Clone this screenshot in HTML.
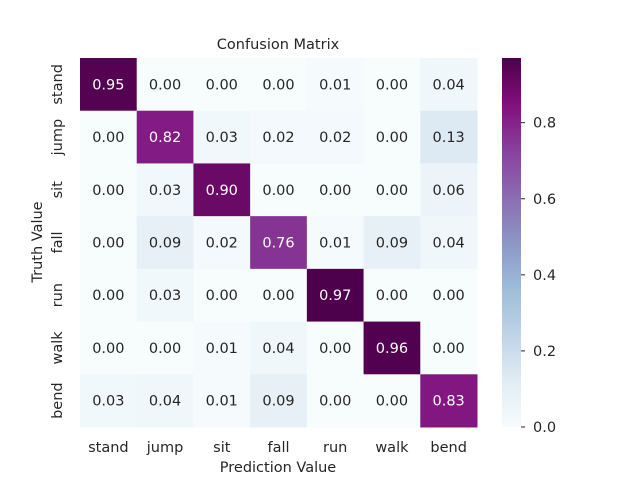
<!DOCTYPE html>
<html><head><meta charset="utf-8"><style>
body{margin:0;background:#fff;}
svg text{font-family:"DejaVu Sans","Liberation Sans",sans-serif;fill:#262626;}
</style></head><body>
<svg id="chart" width="640" height="480">
<text x="278" y="49" font-size="14.5" text-anchor="middle">Confusion Matrix</text>
<g id="cells"></g>
<g id="xlabels"></g>
<g id="ylabels"></g>
<text x="278" y="472" font-size="14.5" text-anchor="middle">Prediction Value</text>
<text x="0" y="0" font-size="14.5" text-anchor="middle" transform="translate(42,242) rotate(-90)">Truth Value</text>
<defs><linearGradient id="cbg" x1="0" y1="1" x2="0" y2="0"></linearGradient></defs>
<rect x="502" y="58" width="19" height="369" fill="url(#cbg)"/>
<g id="cbticks"></g>
</svg>
<script>
const categories=["stand","jump","sit","fall","run","walk","bend"];
const row0=[0.95,0.00,0.00,0.00,0.01,0.00,0.04];
const row1=[0.00,0.82,0.03,0.02,0.02,0.00,0.13];
const row2=[0.00,0.03,0.90,0.00,0.00,0.00,0.06];
const row3=[0.00,0.09,0.02,0.76,0.01,0.09,0.04];
const row4=[0.00,0.03,0.00,0.00,0.97,0.00,0.00];
const row5=[0.00,0.00,0.01,0.04,0.00,0.96,0.00];
const row6=[0.03,0.04,0.01,0.09,0.00,0.00,0.83];
const matrix=[row0,row1,row2,row3,row4,row5,row6];
const cbTicks=[0.0,0.2,0.4,0.6,0.8];
const ns="http://www.w3.org/2000/svg";
const X0=80,X1=477,Y0=58,Y1=427;
const n=categories.length,cw=(X1-X0)/n,ch=(Y1-Y0)/n;
let vmin=Infinity,vmax=-Infinity;matrix.forEach(r=>r.forEach(v=>{vmin=Math.min(vmin,v);vmax=Math.max(vmax,v);}));
const stops=["#f7fcfd","#e0ecf4","#bfd3e6","#9ebcda","#8c96c6","#8c6bb1","#88419d","#810f7c","#4d004b"];
function hx(c){return [1,3,5].map(i=>parseInt(c.substr(i,2),16));}
function cmap(t){t=Math.max(0,Math.min(1,t));const p=t*(stops.length-1),i=Math.min(Math.floor(p),stops.length-2),f=p-i;const a=hx(stops[i]),b=hx(stops[i+1]);return "rgb("+a.map((v,k)=>Math.round(v+(b[k]-v)*f)).join(",")+")";}
function norm(v){return (v-vmin)/(vmax-vmin);}
const xs=i=>X0+i*cw, ys=j=>Y0+j*ch, cy=v=>Y1-(v-vmin)/(vmax-vmin)*(Y1-Y0);
const cells=document.getElementById("cells");
matrix.forEach((r,j)=>r.forEach((v,i)=>{
 const rc=document.createElementNS(ns,"rect");
 
 
 rc.setAttribute("x",xs(i));rc.setAttribute("y",ys(j));rc.setAttribute("width",cw+0.5);rc.setAttribute("height",ch+0.5);rc.setAttribute("fill",cmap(norm(v)));
 cells.appendChild(rc);
 const t=document.createElementNS(ns,"text");
 
 
 t.setAttribute("x",xs(i)+cw/2);t.setAttribute("y",ys(j)+ch/2+5);t.setAttribute("text-anchor","middle");t.setAttribute("font-size","14.5");
 t.style.fill=norm(v)>0.5?"#fff":"#262626";t.textContent=v.toFixed(2);cells.appendChild(t);
}));
const xl=document.getElementById("xlabels"),yl=document.getElementById("ylabels");
categories.forEach((c,i)=>{
 const t=document.createElementNS(ns,"text");
 
 
 t.setAttribute("x",xs(i)+cw/2);t.setAttribute("y",452);t.setAttribute("text-anchor","middle");t.setAttribute("font-size","14.5");t.textContent=c;xl.appendChild(t);
 const u=document.createElementNS(ns,"text");
 
 
 u.setAttribute("text-anchor","middle");u.setAttribute("font-size","14.5");
 u.setAttribute("transform","translate(62,"+(ys(i)+ch/2)+") rotate(-90)");u.textContent=c;yl.appendChild(u);
});
const g=document.getElementById("cbg");
stops.forEach((s,k)=>{const st=document.createElementNS(ns,"stop");st.setAttribute("offset",k/(stops.length-1));st.setAttribute("stop-color",s);g.appendChild(st);});
const cb=document.getElementById("cbticks");
cbTicks.forEach(v=>{
 const y=cy(v);
 const l=document.createElementNS(ns,"line");
 
 
 l.setAttribute("x1",521);l.setAttribute("x2",525);l.setAttribute("y1",y);l.setAttribute("y2",y);l.setAttribute("stroke","#262626");cb.appendChild(l);
 const t=document.createElementNS(ns,"text");
 
 
 t.setAttribute("x",533);t.setAttribute("y",y+5);t.setAttribute("font-size","14.5");t.textContent=v.toFixed(1);cb.appendChild(t);
});
</script>
</body></html>
